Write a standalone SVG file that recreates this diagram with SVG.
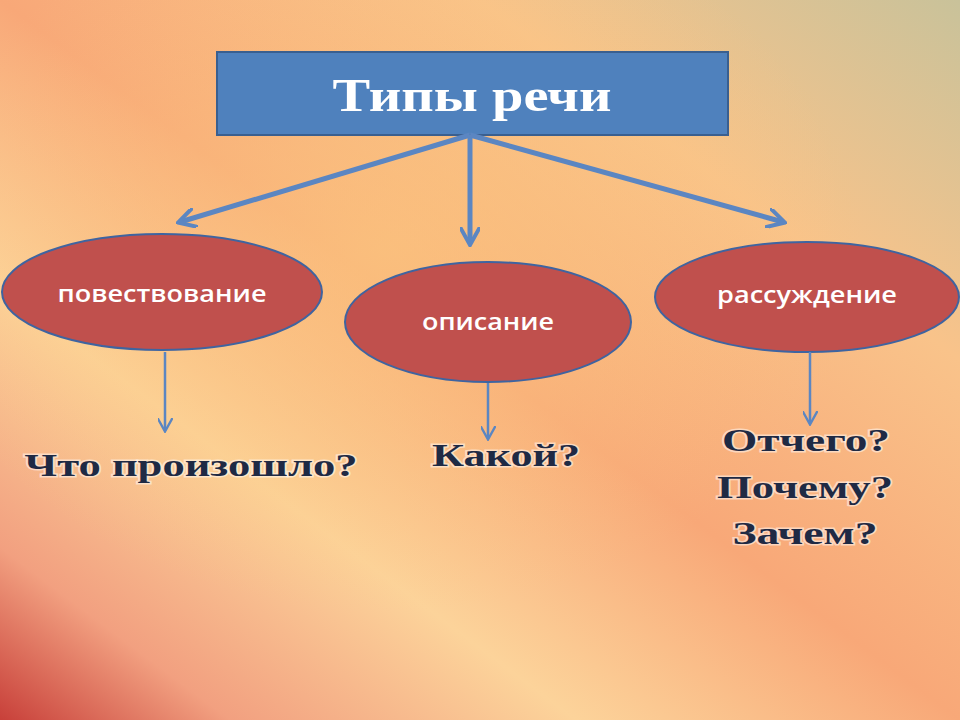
<svg xmlns="http://www.w3.org/2000/svg" width="960" height="720" viewBox="0 0 960 720">
<defs>
<linearGradient id="bg" x1="0" y1="1" x2="1" y2="0">
<stop offset="0" stop-color="#c8403a"/>
<stop offset="0.12" stop-color="#f2a080"/>
<stop offset="0.3" stop-color="#fcd39a"/>
<stop offset="0.5" stop-color="#f8a878"/>
<stop offset="0.75" stop-color="#f9c38a"/>
<stop offset="1" stop-color="#c9c29a"/>
</linearGradient>
<radialGradient id="glow" cx="0.4" cy="0.35" r="0.5">
<stop offset="0" stop-color="#fbc77e" stop-opacity="0.7"/>
<stop offset="1" stop-color="#fbc77e" stop-opacity="0"/>
</radialGradient>
<marker id="ah" viewBox="0 0 10 10" refX="8" refY="5" markerWidth="4" markerHeight="4" orient="auto" markerUnits="strokeWidth">
<path d="M0,0 L9,5 L0,10" fill="none" stroke="#5b86c2" stroke-width="2"/>
</marker>
<marker id="ah2" viewBox="0 0 10 10" refX="8" refY="5" markerWidth="6" markerHeight="6" orient="auto" markerUnits="strokeWidth">
<path d="M0,0 L9,5 L0,10" fill="none" stroke="#5b86c2" stroke-width="1.6"/>
</marker>
</defs>
<style>
.el{fill:#c0504d;stroke:#3f64a0;stroke-width:2}
.et{font-family:"Open Sans","Liberation Sans",sans-serif;font-size:23px;fill:#fff;text-anchor:middle;font-weight:600}
.q{font-family:"Liberation Serif",serif;font-weight:bold;font-size:32px;fill:#1f2a44;text-anchor:middle;stroke:#ffffff;stroke-opacity:0.5;stroke-width:3;paint-order:stroke}
</style>
<rect width="960" height="720" fill="url(#bg)"/>
<rect width="960" height="720" fill="url(#glow)"/>
<g id="title"><rect x="217" y="52" width="511" height="83" fill="#4f81bd" stroke="#3a5f8f" stroke-width="2"/>
<text x="472" y="111" font-family="Liberation Serif,serif" font-weight="bold" font-size="46" fill="#fff" text-anchor="middle" textLength="279" lengthAdjust="spacingAndGlyphs">Типы речи</text></g>
<g id="n1"><ellipse class="el" cx="162" cy="292" rx="160" ry="58"/><text class="et" x="162" y="302" textLength="209" lengthAdjust="spacingAndGlyphs">повествование</text></g>
<g id="n2"><ellipse class="el" cx="488" cy="322" rx="143" ry="60"/><text class="et" x="488" y="330" textLength="132" lengthAdjust="spacingAndGlyphs">описание</text></g>
<g id="n3"><ellipse class="el" cx="807" cy="297" rx="152" ry="55"/><text class="et" x="807" y="303" textLength="180" lengthAdjust="spacingAndGlyphs">рассуждение</text></g>
<g id="connectors" stroke="#5b86c2" fill="none">
<line x1="470" y1="135" x2="180" y2="222" stroke-width="5" marker-end="url(#ah)"/>
<line x1="470" y1="135" x2="470" y2="243" stroke-width="5" marker-end="url(#ah)"/>
<line x1="470" y1="135" x2="783" y2="222" stroke-width="5" marker-end="url(#ah)"/>
<line x1="165" y1="352" x2="165" y2="430" stroke-width="2.5" marker-end="url(#ah2)"/>
<line x1="488" y1="383" x2="488" y2="438" stroke-width="2.5" marker-end="url(#ah2)"/>
<line x1="810" y1="352" x2="810" y2="423" stroke-width="2.5" marker-end="url(#ah2)"/>
</g>
<g id="q1"><text class="q" x="191" y="476" textLength="333" lengthAdjust="spacingAndGlyphs">Что произошло?</text></g>
<g id="q2"><text class="q" x="506" y="466" textLength="148" lengthAdjust="spacingAndGlyphs">Какой?</text></g>
<g id="q3"><text class="q" x="806" y="451" textLength="168" lengthAdjust="spacingAndGlyphs">Отчего?</text><text class="q" x="805" y="498" textLength="176" lengthAdjust="spacingAndGlyphs">Почему?</text><text class="q" x="805" y="544" textLength="145" lengthAdjust="spacingAndGlyphs">Зачем?</text></g>
</svg>
